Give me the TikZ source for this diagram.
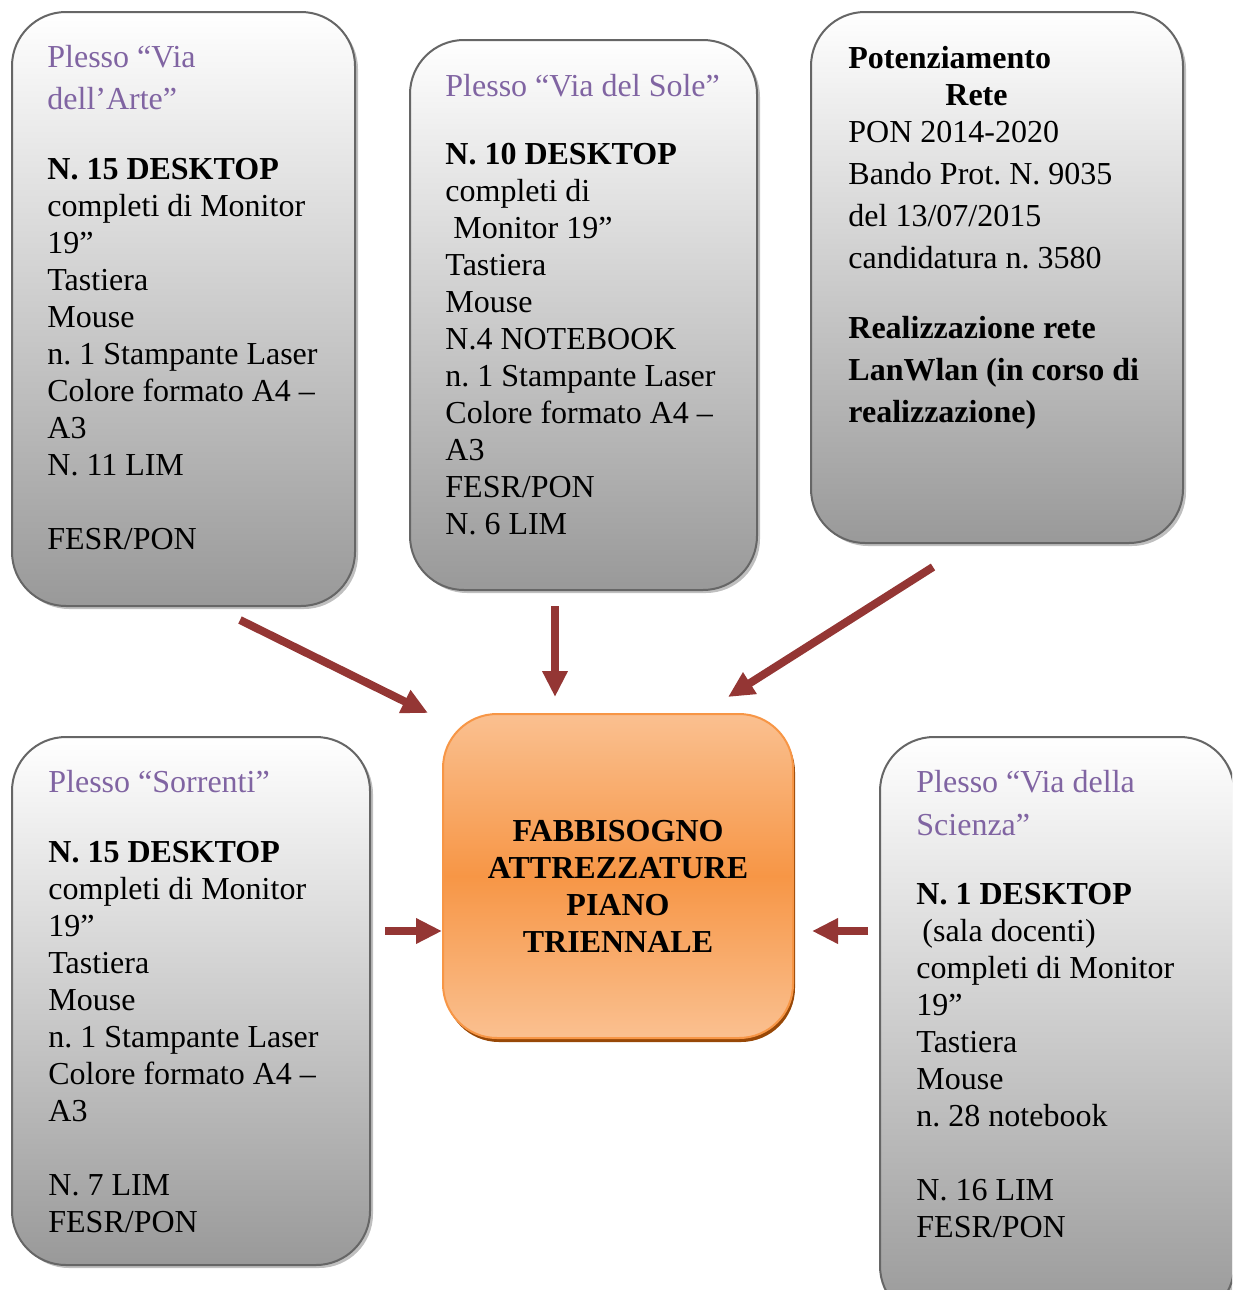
\documentclass[tikz,border=0pt]{standalone}
\usepackage{fontspec}
\setmainfont{Liberation Serif}
\usetikzlibrary{arrows.meta,shadows}
\definecolor{plessoviola}{HTML}{8064A2}
\definecolor{frecciarossa}{HTML}{943634}
\definecolor{arancio}{HTML}{F79646}
\definecolor{aranciochiaro}{HTML}{FAC090}
\definecolor{aranciombra}{HTML}{984807}
\frenchspacing
\begin{document}
\begin{tikzpicture}[x=0.5pt, y=-0.5pt,
    scatola/.style={rectangle, rounded corners=27pt, draw=black!60, line width=1pt,
        top color=white, bottom color=black!40,
        drop shadow={shadow xshift=1.5pt, shadow yshift=-1.5pt, fill=black!25, opacity=1}},
    centro/.style={rectangle, rounded corners=27pt, draw=arancio, line width=1pt,
        top color=aranciochiaro, bottom color=aranciochiaro, middle color=arancio,
        drop shadow={shadow xshift=1pt, shadow yshift=-2pt, fill=aranciombra, opacity=1}},
    testo/.style={anchor=north west, align=left, inner sep=0pt, font=\fontsize{16}{18.5}\selectfont},
    freccia/.style={-{Triangle[width=12pt,length=13pt]}, line width=4pt, draw=frecciarossa}]
    \useasboundingbox (0,0) rectangle (1232,1290);
    \clip (0,0) rectangle (1232,1290);

    % riquadri
    \node (arte) [scatola, minimum width=171.5pt, minimum height=297pt] at (183.5,309) {};
    \node (sole) [scatola, minimum width=173.5pt, minimum height=275pt] at (583.5,315) {};
    \node (rete) [scatola, minimum width=186pt, minimum height=265.5pt] at (997,277.5) {};
    \node (sorrenti) [scatola, minimum width=179pt, minimum height=264pt] at (191,1001) {};
    \node (scienza) [scatola, minimum width=177pt, minimum height=291.5pt] at (1057,1028.5) {};
    \node (fabbisogno) [centro, minimum width=175pt, minimum height=162pt] at (618,876) {};

    % testi
    \node (arteTesto) [testo] at (47,45) {\textcolor{plessoviola}{Plesso “Via}\\[2.5pt]
        \textcolor{plessoviola}{dell’Arte”}\\[16.5pt]
        \textbf{N. 15 DESKTOP}\\ completi di Monitor\\ 19”\\ Tastiera\\ Mouse\\
        n. 1 Stampante Laser\\ Colore formato A4 –\\ A3\\ N. 11 LIM\\[18.5pt] FESR/PON};
    \node (soleTesto) [testo] at (445,74) {\textcolor{plessoviola}{Plesso “Via del Sole”}\\[15.5pt]
        \textbf{N. 10 DESKTOP}\\ completi di\\ \hspace*{4pt}Monitor 19”\\ Tastiera\\ Mouse\\
        N.4 NOTEBOOK\\ n. 1 Stampante Laser\\ Colore formato A4 –\\ A3\\ FESR/PON\\ N. 6 LIM};
    \node (reteTesto) [testo] at (848,46) {\textbf{Potenziamento}\\ \hspace*{48.5pt}\textbf{Rete}\\
        PON 2014-2020\\[2.5pt] Bando Prot. N. 9035\\[2.5pt] del 13/07/2015\\[2.5pt]
        candidatura n. 3580\\[16.5pt] \textbf{Realizzazione rete}\\[2.5pt]
        \textbf{LanWlan (in corso di}\\[2.5pt] \textbf{realizzazione)}};
    \node (sorrentiTesto) [testo] at (48,770) {\textcolor{plessoviola}{Plesso “Sorrenti”}\\[16.5pt]
        \textbf{N. 15 DESKTOP}\\ completi di Monitor\\ 19”\\ Tastiera\\ Mouse\\
        n. 1 Stampante Laser\\ Colore formato A4 –\\ A3\\[18.5pt] N. 7 LIM\\ FESR/PON};
    \node (scienzaTesto) [testo] at (916,770) {\textcolor{plessoviola}{Plesso “Via della}\\[3pt]
        \textcolor{plessoviola}{Scienza”}\\[16pt]
        \textbf{N. 1 DESKTOP}\\ \hspace*{3pt}(sala docenti)\\ completi di Monitor\\ 19”\\ Tastiera\\
        Mouse\\ n. 28 notebook\\[18.5pt] N. 16 LIM\\ FESR/PON};
    \node (fabbisognoTesto) [align=center, inner sep=0pt, font=\bfseries\fontsize{16}{18.5}\selectfont]
        at (618,886) {FABBISOGNO\\ ATTREZZATURE\\ PIANO\\ TRIENNALE};

    % frecce
    \coordinate (arteDa) at (240,620);
    \coordinate (arteA) at (428,713);
    \coordinate (soleDa) at (555,606);
    \coordinate (soleA) at (555,697);
    \coordinate (reteDa) at (933,567);
    \coordinate (reteA) at (728,697);
    \coordinate (sorrentiDa) at (385,931);
    \coordinate (sorrentiA) at (442,931);
    \coordinate (scienzaDa) at (868,931);
    \coordinate (scienzaA) at (812,931);
    \draw[freccia] (arteDa) -- (arteA);
    \draw[freccia] (soleDa) -- (soleA);
    \draw[freccia] (reteDa) -- (reteA);
    \draw[freccia] (sorrentiDa) -- (sorrentiA);
    \draw[freccia] (scienzaDa) -- (scienzaA);
\end{tikzpicture}
\end{document}
